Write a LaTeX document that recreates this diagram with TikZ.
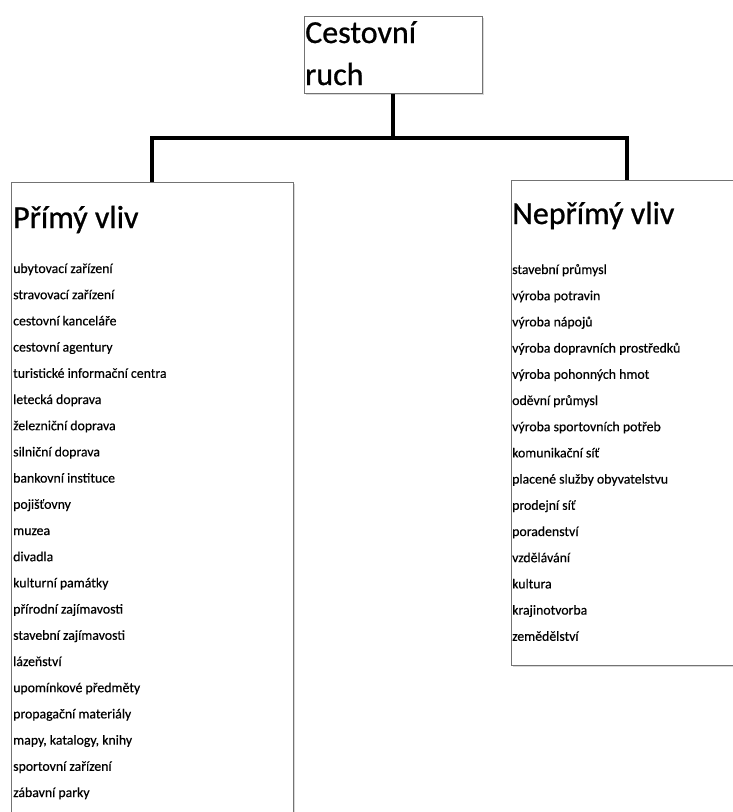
\documentclass[tikz,border=0pt]{standalone}
\usepackage{fontspec}
\setmainfont{Carlito}
\newfontfamily\headfont[FakeBold=0.8]{Carlito}
\newfontfamily\itemfont[FakeBold=0.4]{Carlito}
\usetikzlibrary{positioning, shadows}

\begin{document}
\begin{tikzpicture}[
            x=1pt, y=-1pt,
            panel/.style={draw=black!55, line width=0.8pt, fill=white, anchor=north west, inner sep=0pt,
                drop shadow={shadow xshift=1.5pt, shadow yshift=-1.5pt, opacity=0.3}},
            heading/.style={anchor=base west, inner sep=0pt, font=\headfont\fontsize{32}{38}\selectfont},
            item/.style={anchor=base west, inner sep=0pt, font=\itemfont\fontsize{13.8}{16}\selectfont},
            link/.style={line width=4pt}
        ]
            \clip (0,0) rectangle (733,812);
            \fill[white] (0,0) rectangle (733,812);

            \node[panel, minimum width=178pt, minimum height=77pt] (ruch) at (304,16) {};
            \node[panel, minimum width=282pt, minimum height=660pt] (primy) at (11,182) {};
            \node[panel, minimum width=232pt, minimum height=485pt] (neprimy) at (511,180) {};

            % last line baseline is the base anchor
            \node[heading, align=left, font=\headfont\fontsize{32}{42}\selectfont] (ruchtext) at (305,85) {Cestovní\\ruch};
            \node[heading] (primyhead) at (13,228) {Přímý vliv};
            \node[heading] (neprimyhead) at (512,224) {Nepřímý vliv};

            % prime impact
            \foreach \txt [count=\i from 0] in {ubytovací zařízení, stravovací zařízení, cestovní kanceláře,
                cestovní agentury, turistické informační centra, letecká doprava, železniční doprava,
                silniční doprava, bankovní instituce, pojišťovny, muzea, divadla, kulturní památky,
                přírodní zajímavosti, stavební zajímavosti, lázeňství, upomínkové předměty,
                propagační materiály, {mapy, katalogy, knihy}, sportovní zařízení, zábavní parky}
                \node[item] (p\i) at (13, 273+26.2*\i) {\txt};

            % indirect impact
            \foreach \txt [count=\i from 0] in {stavební průmysl, výroba potravin, výroba nápojů,
                výroba dopravních prostředků, výroba pohonných hmot, oděvní průmysl,
                výroba sportovních potřeb, komunikační síť, placené služby obyvatelstvu, prodejní síť,
                poradenství, vzdělávání, kultura, krajinotvorba, zemědělství}
                \node[item] (n\i) at (512, 274+26.2*\i) {\txt};

            \coordinate (fork) at ([yshift=-44pt]ruch.south);
            \draw[link] (ruch.south) -- (fork) -| (primy.north);
\draw[link] (fork) -| (neprimy.north);
        \end{tikzpicture}
\end{document}
